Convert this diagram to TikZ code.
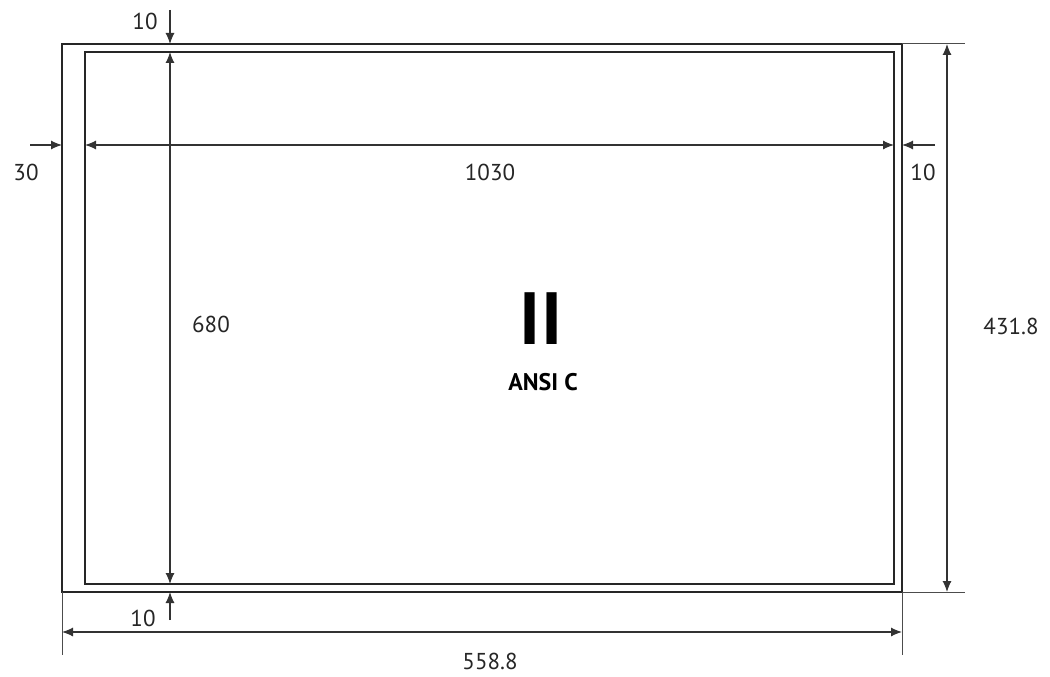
\documentclass[tikz,border=0pt]{standalone}
\usepackage{fontspec}
\setmainfont{PT Sans}
\usetikzlibrary{arrows.meta}
\tikzset{
  sheet/.style={line width=2.4pt, color=black!85},
  dimline/.style={line width=1.1pt, color=black!80, {Latex[length=11pt,width=9pt]}-{Latex[length=11pt,width=9pt]}},
  dimin/.style={line width=1.1pt, color=black!80, -{Latex[length=11pt,width=9pt]}},
  extline/.style={line width=1pt, color=black!70},
  dimtext/.style={font=\fontsize{23}{26}\selectfont, color=black!85, inner sep=0pt}
}
\begin{document}
\begin{tikzpicture}[x=1pt, y=-1pt]
		%%%%% START %%%%%
		\useasboundingbox (0, 0) rectangle (1050, 677);
		
		% sheet corners
		\coordinate (outNW) at (62, 44);
		\coordinate (outSE) at (902, 592);
		\coordinate (inNW) at (85, 52);
		\coordinate (inSE) at (894, 584);
		
		\draw[sheet] (outNW) rectangle (outSE);
		\draw[sheet] (inNW) rectangle (inSE);
		
		% vertical dimension, left
		\coordinate (vTop) at (170, 10);
		\coordinate (vBot) at (170, 620);
		\draw[dimin] (vTop) -- (vTop |- outNW);
		\draw[dimline] (vTop |- inNW) -- (vTop |- inSE);
		\draw[dimin] (vBot) -- (vBot |- outSE);
		
		% horizontal dimension, top
		\coordinate (hLeft) at (30, 145);
		\coordinate (hRight) at (935, 145);
		\draw[dimin] (hLeft) -- (hLeft -| outNW);
		\draw[dimline] (hLeft -| inNW) -- (hLeft -| inSE);
		\draw[dimin] (hRight) -- (hRight -| outSE);
		
		% overall height, right
		\coordinate (rTop) at (965, 44);
		\coordinate (rBot) at (965, 592);
		\draw[extline] (outNW -| outSE) -- (rTop);
		\draw[extline] (outSE) -- (rBot);
		\draw[dimline] (947, 44) -- (947, 592);
		
		% overall width, bottom
		\coordinate (bLeft) at (62, 655);
		\coordinate (bRight) at (902, 655);
		\draw[extline] (outNW |- outSE) -- (bLeft);
		\draw[extline] (outSE) -- (bRight);
		\draw[dimline] (62, 632) -- (902, 632);
		
		% labels
		\node[dimtext] (topGap) at (145, 21) {10};
		\node[dimtext] (leftGap) at (26, 172) {30};
		\node[dimtext] (innerW) at (490, 172) {1030};
		\node[dimtext] (rightGap) at (923, 172) {10};
		\node[dimtext] (innerH) at (211, 324) {680};
		\node[dimtext] (outerH) at (1011, 326) {431.8};
		\node[dimtext] (botGap) at (143, 618) {10};
		\node[dimtext] (outerW) at (490, 661) {558.8};
		
		\node[inner sep=0pt, font=\fontsize{74}{80}\selectfont\bfseries] (sizeNo) at (541, 319) {II};
		\node[inner sep=0pt, font=\fontsize{24}{27}\selectfont\bfseries] (sizeName) at (543, 382) {ANSI C};
		
		%%%%% END %%%%%
	\end{tikzpicture}
\end{document}
